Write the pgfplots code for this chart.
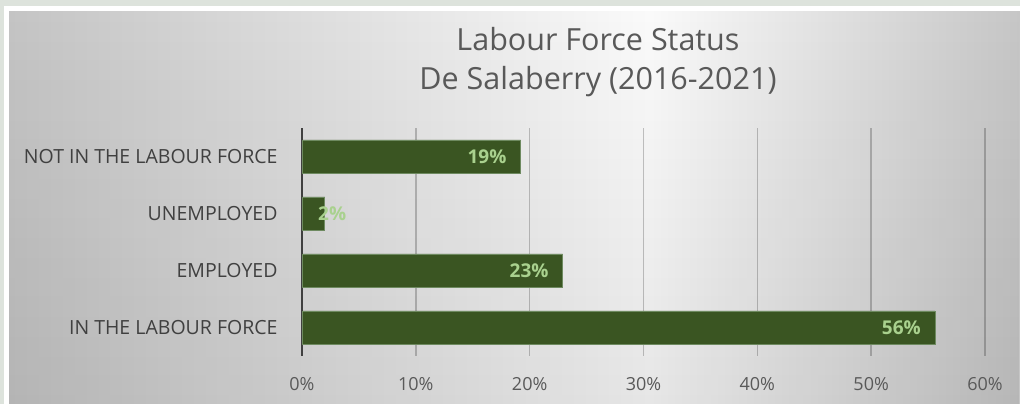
\documentclass[border=0pt]{standalone}
\usepackage{pgfplots}
\pgfplotsset{compat=1.18}
\usepackage{fontspec}
\setmainfont{Open Sans}
\usetikzlibrary{fadings}
\definecolor{barfill}{HTML}{3A5522}
\definecolor{barline}{HTML}{6E8A60}
\definecolor{lbl}{HTML}{A9D18E}
\definecolor{frame}{HTML}{DDE3DC}
\definecolor{gA}{HTML}{C4C4C4}
\definecolor{gB}{HTML}{FAFAFA}
\definecolor{gC}{HTML}{C6C6C6}
\definecolor{titlec}{HTML}{595959}
\definecolor{catc}{HTML}{404040}
\definecolor{axc}{HTML}{404040}
\pgfplotstableread{
x y
55.6 0
22.9 1
2.0 2
19.2 3
}\datatbl
\begin{document}
\begin{tikzpicture}[x=1pt,y=1pt]
\fill[frame] (0,0) rectangle (1020,404);
\fill[white] (4,0) rectangle (1020,398);
\shade[left color=gA, right color=gB] (9,0) rectangle (650.5,392);
\shade[left color=gB, right color=gC] (650,0) rectangle (1020,392);
\fill[black, opacity=0.08, path fading=north] (9,0) rectangle (1020,392);
\node[anchor=base, inner sep=0pt, text=titlec, font=\fontsize{30.5}{35}\selectfont] at (598,353) {Labour Force Status};
\node[anchor=base, inner sep=0pt, text=titlec, font=\fontsize{30.5}{35}\selectfont] at (598,314) {De Salaberry (2016-2021)};
\begin{axis}[
  at={(302pt,48pt)}, anchor=south west,
  scale only axis, width=683pt, height=228pt,
  xmin=0, xmax=60, ymin=-0.5, ymax=3.5,
  xbar, bar width=33pt,
  axis line style={draw=none},
  major tick length=0pt,
  ytick={0,1,2,3},
  yticklabels={IN THE LABOUR FORCE, EMPLOYED, UNEMPLOYED, NOT IN THE LABOUR FORCE},
  xtick={0,10,20,30,40,50,60},
  xticklabels={0\%,10\%,20\%,30\%,40\%,50\%,60\%},
  xmajorgrids,
  grid style={draw=black, opacity=0.22, line width=1.5pt},
  extra x ticks={0},
  extra x tick labels={},
  extra x tick style={grid style={draw=axc, opacity=1, line width=2.8pt}},
  xticklabel style={text=titlec, font=\fontsize{18}{21}\selectfont, yshift=-18pt},
  yticklabel style={text=catc, font=\fontsize{19.5}{22}\selectfont, xshift=-21pt},
  clip=false,
]
\addplot[fill=barfill, draw=barline, line width=0.6pt] table[x=x,y=y] {\datatbl};
\node[anchor=east, inner sep=0pt, xshift=-14pt, text=lbl, font=\bfseries\fontsize{19}{22}\selectfont] at (axis cs:55.6,0) {56\%};
\node[anchor=east, inner sep=0pt, xshift=-14pt, text=lbl, font=\bfseries\fontsize{19}{22}\selectfont] at (axis cs:22.9,1) {23\%};
\node[anchor=west, inner sep=0pt, xshift=16pt, text=lbl, font=\bfseries\fontsize{19}{22}\selectfont] at (axis cs:0,2) {2\%};
\node[anchor=east, inner sep=0pt, xshift=-14pt, text=lbl, font=\bfseries\fontsize{19}{22}\selectfont] at (axis cs:19.2,3) {19\%};
\end{axis}
\pgfresetboundingbox
\useasboundingbox (0,0) rectangle (1020,404);
\end{tikzpicture}
\end{document}
